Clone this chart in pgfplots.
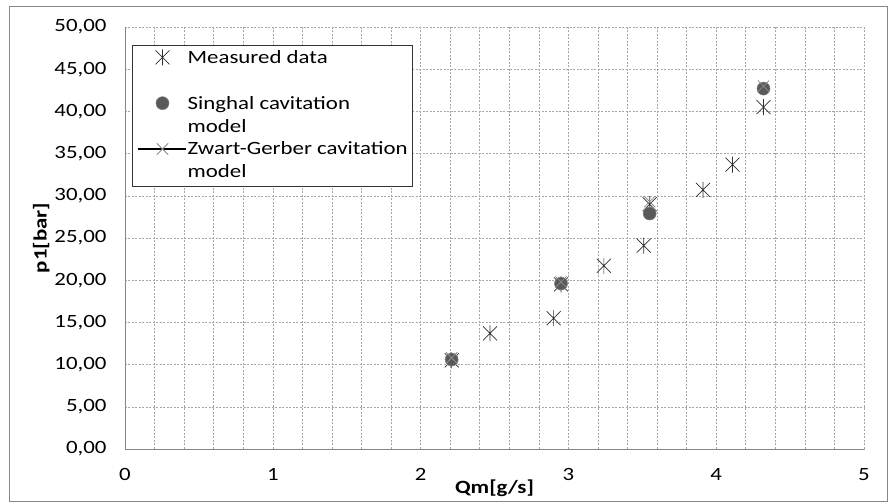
\documentclass[border=0pt]{standalone}
\usepackage{fontspec}
\setmainfont{Carlito}[FakeStretch=1.22]
\usepackage{pgfplots}
\pgfplotsset{compat=1.18}

\definecolor{gridgray}{HTML}{A6A6A6}
\definecolor{axisgray}{HTML}{868686}
\definecolor{meascol}{HTML}{303030}
\definecolor{singfill}{HTML}{595959}
\definecolor{singedge}{HTML}{808080}
\definecolor{zwartcol}{HTML}{8C8C8C}

% Excel-like star marker: an x with a vertical bar
\pgfdeclareplotmark{xstar}{%
  \pgfpathmoveto{\pgfqpoint{-\pgfplotmarksize}{-\pgfplotmarksize}}%
  \pgfpathlineto{\pgfqpoint{\pgfplotmarksize}{\pgfplotmarksize}}%
  \pgfpathmoveto{\pgfqpoint{-\pgfplotmarksize}{\pgfplotmarksize}}%
  \pgfpathlineto{\pgfqpoint{\pgfplotmarksize}{-\pgfplotmarksize}}%
  \pgfpathmoveto{\pgfqpoint{0pt}{-1.15\pgfplotmarksize}}%
  \pgfpathlineto{\pgfqpoint{0pt}{1.15\pgfplotmarksize}}%
  \pgfusepathqstroke}

\pgfplotsset{
  markleg/.style={legend image code/.code={\draw[##1] plot coordinates {(24bp,6bp)};}},
  zwartleg/.style={legend image code/.code={%
    \draw[black, line width=2.4bp] (0bp,6bp) -- (48bp,6bp);
    \draw[##1] plot coordinates {(24bp,6bp)};}},
}

\newcommand{\twol}[2]{\begin{tabular}[t]{@{}l@{}}#1\\#2\end{tabular}}

\begin{document}
\begin{tikzpicture}
\begin{axis}[
  width=739bp, height=422bp, scale only axis,
  xmin=0, xmax=5, ymin=0, ymax=50,
  xtick={0,1,2,3,4,5}, minor x tick num=4,
  ytick={0,5,...,50},
  xmajorgrids, xminorgrids, ymajorgrids,
  major grid style={gridgray, dash pattern=on 2bp off 1.5bp, line width=0.6bp},
  minor grid style={gridgray, dash pattern=on 2bp off 1.5bp, line width=0.6bp},
  major tick length=0pt, minor tick length=0pt,
  axis x line*=bottom, axis y line*=left,
  axis line style={-, axisgray, line width=0.8bp},
  tick label style={font=\fontsize{18.8}{20}\selectfont},
  /pgf/number format/assume math mode=true,
  yticklabel style={xshift=-15bp, /pgf/number format/.cd, fixed, fixed zerofill, precision=2, use comma},
  xticklabel style={yshift=-16bp},
  xlabel={Qm[g/s]}, ylabel={p1[bar]},
  label style={font=\fontsize{18.8}{20}\selectfont\bfseries},
  xlabel style={yshift=8bp},
  ylabel style={yshift=-2bp},
  legend style={at={(rel axis cs:0,1)}, anchor=north west, xshift=7bp, yshift=-18bp,
    draw=black!80, line width=0.6bp, inner xsep=5bp, inner ysep=2bp,
    font=\fontsize{18.8}{23}\selectfont,
    cells={anchor=base west},
    nodes={inner sep=0pt, text depth=},
    row sep=0pt,
    /tikz/every even column/.style={column sep=4bp}},
]
\addplot[only marks, mark=xstar, mark size=7bp, meascol, line width=0.7bp, markleg]
  coordinates {(2.21,10.5) (2.47,13.7) (2.90,15.5) (2.95,19.5) (3.24,21.7)
               (3.51,24.1) (3.55,29.0) (3.91,30.7) (4.11,33.7) (4.32,40.5)};
\addlegendentry{\twol{Measured data}{\mbox{}}}
\addplot[only marks, mark=*, mark size=6.5bp, mark options={fill=singfill, draw=singedge, line width=0.6bp}, markleg]
  coordinates {(2.21,10.6) (2.95,19.6) (3.55,27.9) (4.32,42.7)};
\addlegendentry{\twol{Singhal cavitation}{model}}
\addplot[only marks, mark=x, mark size=8bp, zwartcol, line width=0.8bp, zwartleg]
  coordinates {(2.21,10.8) (2.95,19.8) (3.55,29.3) (4.32,43.0)};
\addlegendentry{\twol{Zwart-Gerber cavitation}{model}}
\end{axis}
\draw[axisgray, line width=0.8bp] (-116bp,-52bp) rectangle (762bp,443bp);
\pgfresetboundingbox
\useasboundingbox (-125bp,-55bp) rectangle (766bp,449bp);
\end{tikzpicture}
\end{document}
